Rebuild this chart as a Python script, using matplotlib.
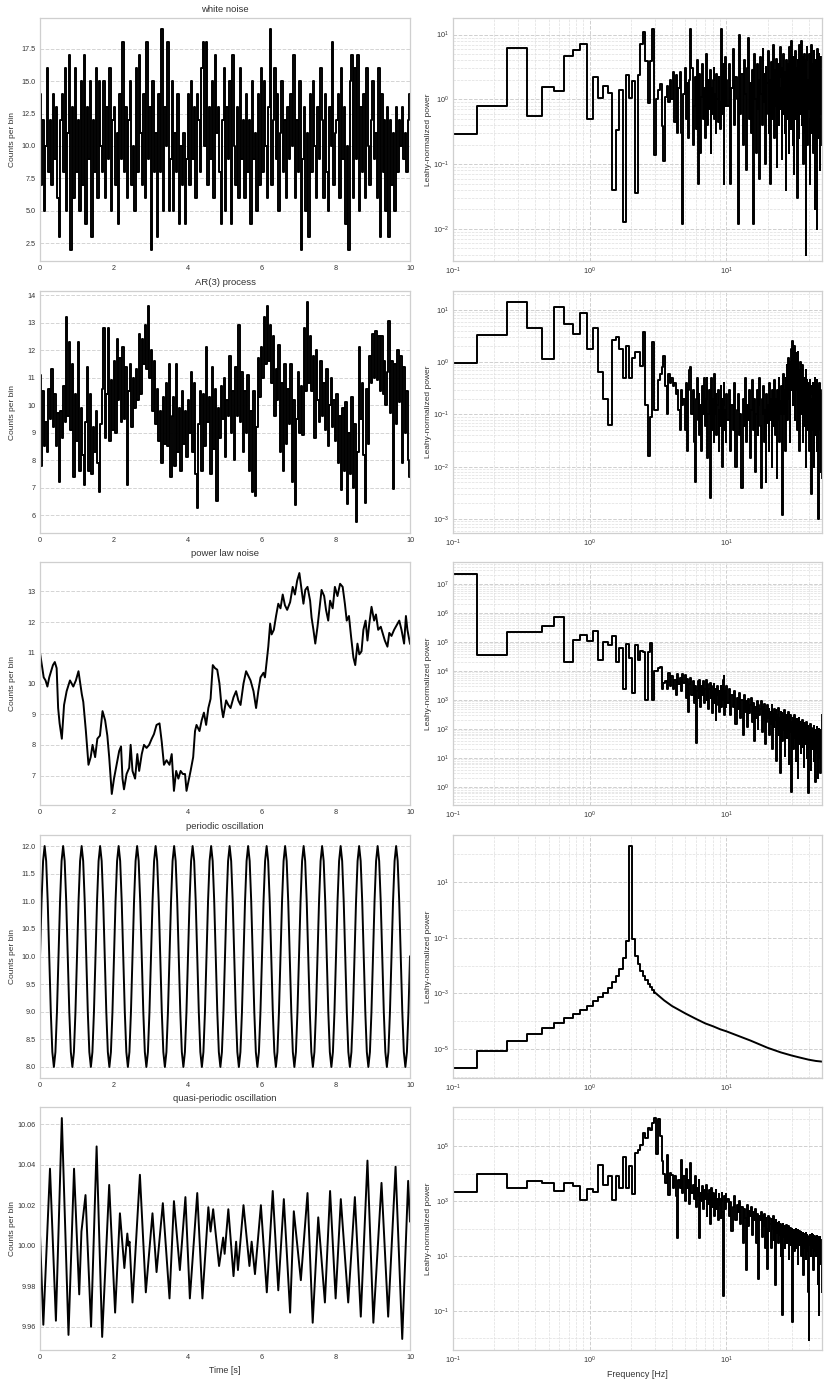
import numpy as np
import matplotlib
matplotlib.use("Agg")
import matplotlib.pyplot as plt
from matplotlib.ticker import LogLocator, NullFormatter

plt.rcParams['font.family'] = ['Liberation Sans', 'DejaVu Sans']

# ---------------- data ----------------
titles = ["white noise", "AR(3) process", "power law noise",
          "periodic oscillation", "quasi-periodic oscillation"]

white_counts = [
    14, 7, 12, 5, 10, 16, 8, 12, 7, 14,
    9, 13, 6, 3, 12, 14, 8, 16, 5, 11,
    17, 2, 13, 6, 16, 8, 12, 5, 15, 7,
    17, 4, 13, 9, 15, 3, 12, 8, 16, 6,
    15, 10, 8, 15, 6, 13, 9, 16, 5, 12,
    13, 7, 11, 4, 14, 9, 18, 8, 13, 6,
    12, 15, 7, 10, 5, 16, 8, 17, 11, 7,
    14, 6, 18, 9, 13, 2, 15, 8, 11, 3,
    14, 8, 19, 5, 13, 10, 18, 5, 9, 15,
    5, 11, 8, 14, 4, 10, 7, 11, 4, 9,
    14, 7, 15, 9, 13, 6, 14, 12, 8, 16,
    18, 10, 18, 7, 13, 9, 15, 6, 17, 11,
    13, 8, 4, 12, 16, 5, 13, 9, 15, 4,
    17, 10, 7, 13, 6, 16, 9, 12, 6, 14,
    8, 12, 4, 15, 9, 11, 5, 14, 7, 16,
    8, 15, 10, 6, 13, 19, 7, 12, 16, 9,
    14, 5, 11, 15, 8, 12, 6, 13, 9, 14,
    10, 17, 6, 12, 8, 15, 2, 9, 13, 5,
    11, 3, 14, 8, 15, 10, 6, 13, 9, 16,
    12, 6, 14, 8, 5, 13, 10, 18, 7, 11,
    12, 14, 6, 16, 9, 13, 4, 10, 2, 15,
    17, 6, 16, 9, 17, 5, 13, 8, 14, 6,
    16, 10, 7, 12, 15, 9, 11, 6, 16, 3,
    14, 8, 12, 5, 13, 3, 12, 7, 11, 5,
    13, 8, 12, 10, 13, 9, 11, 8, 12, 14]

ar3_counts = [
    11.1, 7.8, 10.5, 8.5, 9.4, 8.3, 10.6, 9.5, 11.3, 9.2,
    10.4, 8.5, 9.7, 7.2, 9.8, 8.8, 10.7, 9.4, 13.2, 9.6,
    12.3, 9.1, 11.5, 7.4, 10.4, 8.7, 12.3, 7.6, 9.9, 8.2,
    7.1, 9.4, 11.4, 7.6, 10.4, 7.5, 9.2, 8.3, 9.8, 7.9,
    6.85, 9.3, 10.6, 12.8, 8.8, 10.4, 12.8, 8.7, 10.9, 9.1,
    11.6, 9.0, 12.4, 10.2, 11.7, 9.4, 12.1, 9.5, 11.4, 7.1,
    10.5, 11.5, 9.2, 11.0, 9.9, 11.3, 10.2, 12.6, 10.4, 12.4,
    11.5, 12.9, 11.3, 13.6, 11.0, 12.0, 9.8, 11.6, 9.3, 10.6,
    8.7, 9.8, 7.9, 10.3, 8.6, 10.8, 8.5, 11.5, 7.4, 9.6,
    10.3, 7.8, 11.5, 8.3, 9.9, 7.6, 10.5, 8.6, 9.8, 8.1,
    10.2, 9.0, 11.2, 8.3, 10.8, 7.5, 6.25, 9.3, 10.5, 7.6,
    10.4, 8.5, 12.1, 9.4, 10.3, 7.5, 11.4, 8.4, 10.6, 6.5,
    9.9, 8.8, 10.7, 9.5, 11.0, 8.1, 10.2, 9.6, 11.8, 9.0,
    10.5, 8.0, 11.4, 9.6, 12.9, 9.4, 11.2, 8.3, 10.5, 9.0,
    11.1, 7.6, 9.8, 6.85, 10.5, 6.7, 9.2, 11.7, 10.3, 12.1,
    11.0, 13.2, 11.5, 13.6, 11.6, 12.9, 10.8, 12.5, 9.6, 11.3,
    10.2, 12.2, 8.3, 10.8, 7.6, 11.5, 8.6, 10.6, 9.3, 11.5,
    7.2, 10.2, 6.35, 9.5, 11.2, 9.0, 10.7, 8.9, 12.8, 10.5,
    13.75, 10.8, 12.5, 10.5, 11.8, 8.8, 12.0, 10.2, 9.4, 11.6,
    9.6, 10.8, 9.1, 11.3, 8.5, 10.0, 11.0, 9.2, 10.2, 8.7,
    10.4, 7.9, 9.6, 6.9, 9.9, 7.6, 10.1, 6.4, 9.0, 7.5,
    10.3, 7.0, 9.3, 5.75, 8.3, 12.1, 9.5, 10.8, 8.2, 6.45,
    10.6, 8.6, 11.8, 10.8, 12.6, 11.0, 12.7, 10.9, 12.5, 10.5,
    12.5, 10.4, 11.6, 10.0, 11.2, 13.05, 9.7, 11.6, 6.95, 11.5,
    9.3, 12.0, 10.1, 11.8, 7.9, 11.4, 9.0, 10.5, 8.0, 7.4]

powerlaw_points = [
    (0.00, 11.0), (0.05, 10.6), (0.10, 10.2), (0.15, 10.1), (0.20, 9.9), (0.25, 10.2),
    (0.30, 10.4), (0.35, 10.6), (0.40, 10.7), (0.45, 10.5), (0.49, 9.2), (0.53, 8.7),
    (0.59, 8.2), (0.65, 9.3), (0.72, 9.75), (0.81, 10.1), (0.90, 9.9), (0.97, 10.1),
    (1.04, 10.4), (1.13, 9.65), (1.17, 9.4), (1.24, 8.45), (1.31, 7.35), (1.37, 7.6),
    (1.42, 8.0), (1.49, 7.6), (1.55, 8.2), (1.62, 8.3), (1.69, 9.1), (1.76, 8.8),
    (1.82, 8.3), (1.87, 7.6), (1.94, 6.4), (2.00, 6.9), (2.07, 7.35), (2.14, 7.8),
    (2.19, 7.95), (2.23, 6.9), (2.27, 6.55), (2.34, 7.05), (2.41, 7.25), (2.45, 8.0),
    (2.50, 7.15), (2.57, 6.9), (2.63, 7.7), (2.68, 7.15), (2.75, 7.7), (2.81, 8.0),
    (2.88, 7.9), (2.95, 8.0), (3.02, 8.2), (3.08, 8.35), (3.15, 8.65), (3.23, 8.7),
    (3.29, 8.1), (3.35, 7.35), (3.42, 7.5), (3.50, 7.35), (3.56, 7.7), (3.62, 6.5),
    (3.68, 7.15), (3.74, 6.9), (3.80, 7.15), (3.86, 7.05), (3.92, 7.05), (3.96, 6.5),
    (4.01, 6.8), (4.07, 7.15), (4.14, 7.6), (4.19, 8.45), (4.23, 8.65), (4.31, 8.45),
    (4.37, 8.8), (4.43, 9.05), (4.49, 8.65), (4.55, 9.2), (4.61, 9.5), (4.67, 10.6),
    (4.73, 10.5), (4.79, 10.45), (4.85, 10.0), (4.91, 9.2), (4.95, 8.9), (5.03, 9.45),
    (5.09, 9.3), (5.15, 9.2), (5.23, 9.55), (5.30, 9.75), (5.36, 9.45), (5.42, 9.3),
    (5.50, 10.0), (5.57, 10.4), (5.63, 10.25), (5.69, 10.1), (5.77, 9.75), (5.84, 9.2),
    (5.90, 9.75), (5.96, 10.2), (6.04, 10.35), (6.08, 10.2), (6.13, 10.75), (6.17, 11.2),
    (6.22, 11.95), (6.26, 11.6), (6.32, 11.75), (6.38, 12.2), (6.44, 12.6), (6.50, 12.45),
    (6.56, 12.9), (6.62, 12.55), (6.68, 12.4), (6.76, 12.65), (6.83, 13.15), (6.89, 12.9),
    (6.95, 13.35), (7.01, 13.6), (7.07, 13.05), (7.12, 12.6), (7.17, 13.05), (7.23, 13.15),
    (7.30, 12.7), (7.34, 12.15), (7.39, 11.75), (7.44, 11.3), (7.50, 11.85), (7.55, 12.4),
    (7.61, 13.05), (7.68, 12.85), (7.73, 12.4), (7.79, 12.05), (7.84, 12.7), (7.91, 12.45),
    (7.97, 13.15), (8.04, 12.85), (8.11, 13.25), (8.18, 13.15), (8.24, 12.6), (8.29, 12.05),
    (8.35, 12.2), (8.41, 11.5), (8.47, 10.85), (8.52, 10.6), (8.58, 11.3), (8.63, 10.95),
    (8.69, 11.05), (8.74, 11.75), (8.80, 12.05), (8.85, 11.4), (8.90, 11.95), (8.96, 12.5),
    (9.03, 12.05), (9.08, 12.25), (9.14, 11.75), (9.21, 11.85), (9.26, 11.65), (9.32, 11.4),
    (9.39, 11.2), (9.44, 11.65), (9.50, 11.55), (9.57, 11.75), (9.64, 11.9), (9.71, 12.05),
    (9.77, 11.75), (9.84, 11.3), (9.89, 12.2), (9.93, 11.75), (10.00, 11.3)]

periodic_counts = [
    10, 11, 11.73, 12, 11.73, 11, 10, 9, 8.27, 8, 8.27, 9,
    10, 11, 11.73, 12, 11.73, 11, 10, 9, 8.27, 8, 8.27, 9,
    10, 11, 11.73, 12, 11.73, 11, 10, 9, 8.27, 8, 8.27, 9,
    10, 11, 11.73, 12, 11.73, 11, 10, 9, 8.27, 8, 8.27, 9,
    10, 11, 11.73, 12, 11.73, 11, 10, 9, 8.27, 8, 8.27, 9,
    10, 11, 11.73, 12, 11.73, 11, 10, 9, 8.27, 8, 8.27, 9,
    10, 11, 11.73, 12, 11.73, 11, 10, 9, 8.27, 8, 8.27, 9,
    10, 11, 11.73, 12, 11.73, 11, 10, 9, 8.27, 8, 8.27, 9,
    10, 11, 11.73, 12, 11.73, 11, 10, 9, 8.27, 8, 8.27, 9,
    10, 11, 11.73, 12, 11.73, 11, 10, 9, 8.27, 8, 8.27, 9,
    10, 11, 11.73, 12, 11.73, 11, 10, 9, 8.27, 8, 8.27, 9,
    10, 11, 11.73, 12, 11.73, 11, 10, 9, 8.27, 8, 8.27, 9,
    10, 11, 11.73, 12, 11.73, 11, 10, 9, 8.27, 8, 8.27, 9,
    10, 11, 11.73, 12, 11.73, 11, 10, 9, 8.27, 8, 8.27, 9,
    10, 11, 11.73, 12, 11.73, 11, 10, 9, 8.27, 8, 8.27, 9,
    10, 11, 11.73, 12, 11.73, 11, 10, 9, 8.27, 8, 8.27, 9,
    10, 11, 11.73, 12, 11.73, 11, 10, 9, 8.27, 8, 8.27, 9,
    10, 11, 11.73, 12, 11.73, 11, 10, 9, 8.27, 8, 8.27, 9,
    10, 11, 11.73, 12, 11.73, 11, 10, 9, 8.27, 8, 8.27, 9,
    10, 11, 11.73, 12, 11.73, 11, 10, 9, 8.27, 8, 8.27, 9,
    10]

qpo_points = [
    (0.00, 10.0056), (0.09, 9.961), (0.27, 10.038), (0.43, 9.963), (0.59, 10.063),
    (0.77, 9.956), (0.92, 10.038), (1.06, 9.976), (1.12, 10.007), (1.23, 10.025),
    (1.38, 9.960), (1.53, 10.049), (1.68, 9.955), (1.87, 10.030), (2.03, 9.967),
    (2.16, 10.016), (2.28, 9.989), (2.36, 10.006), (2.39, 10.000), (2.42, 10.002),
    (2.50, 9.972), (2.70, 10.035), (2.86, 9.977), (3.04, 10.016), (3.15, 9.987),
    (3.32, 10.021), (3.50, 9.974), (3.62, 10.022), (3.78, 9.988), (3.93, 10.024),
    (4.05, 9.974), (4.25, 10.026), (4.39, 9.974), (4.55, 10.019), (4.61, 10.007),
    (4.68, 10.018), (4.84, 9.990), (4.95, 10.004), (4.99, 9.996), (5.09, 10.018),
    (5.23, 9.985), (5.30, 10.002), (5.35, 9.988), (5.50, 10.020), (5.66, 9.990),
    (5.72, 10.002), (5.81, 9.986), (5.97, 10.020), (6.13, 9.977), (6.29, 10.027),
    (6.44, 9.978), (6.59, 10.023), (6.76, 9.967), (6.86, 10.017), (7.05, 9.983),
    (7.23, 10.026), (7.37, 9.962), (7.52, 10.014), (7.70, 9.972), (7.84, 10.027),
    (7.99, 9.974), (8.13, 10.023), (8.33, 9.972), (8.51, 10.024), (8.67, 9.965),
    (8.85, 10.042), (9.01, 9.962), (9.23, 10.031), (9.41, 9.965), (9.61, 10.039),
    (9.79, 9.954), (9.95, 10.032), (10.00, 10.012)]

# Leahy powers: 0.1-3.0 Hz and 3.1-10.0 Hz every 0.1 Hz, 10.25-50 Hz every 0.25 Hz
white_pow_low = [0.29, 0.78, 6.1, 0.56, 1.55, 1.33, 4.7, 5.8, 7.1, 0.5,
                 2.2, 1.05, 1.6, 1.27, 0.04, 0.34, 1.4, 0.0126, 2.35, 1.06,
                 1.9, 0.036, 2.35, 7.1, 11, 3.9, 0.87, 3.9, 12.3, 0.14]
white_pow_mid = [1.0, 1.4, 1.7, 0.39, 0.11, 1.1, 1.6, 0.9, 2.0, 1.0,
                 2.6, 0.45, 2.4, 0.3, 1.5, 2.6, 0.3, 0.012, 1.2, 3.0,
                 0.5, 1.8, 0.25, 2.0, 12, 3.0, 0.2, 0.8, 2.2, 0.35,
                 4.0, 0.05, 0.6, 2.5, 0.15, 1.1, 3.5, 0.5, 1.5, 0.25,
                 5.0, 1.2, 0.4, 2.0, 0.7, 2.8, 0.15, 1.5, 0.6, 2.0,
                 3.0, 0.5, 1.2, 0.3, 2.5, 1.0, 0.45, 2.2, 0.9, 0.35,
                 1.8, 12, 2.0, 0.6, 3.5, 0.05, 1.5, 4.5, 0.8, 2.0]
white_pow_high = [0.8, 3.5, 0.05, 1.5, 6.0, 0.4, 2.2, 1.0, 0.012, 10,
                  0.6, 2.5, 0.2, 4.0, 1.2, 0.08, 3.0, 9.0, 0.5, 1.8,
                  0.3, 2.8, 0.012, 5.0, 1.0, 0.15, 3.5, 0.7, 2.0, 0.06,
                  4.5, 1.2, 0.4, 6.0, 0.9, 2.5, 0.1, 3.2, 0.6, 1.8,
                  5.5, 0.3, 2.0, 0.05, 3.8, 1.1, 0.5, 7.0, 1.5, 0.25,
                  2.8, 0.8, 4.2, 0.09, 1.6, 3.5, 0.4, 2.2, 6.5, 0.7,
                  1.5, 0.12, 3.0, 0.6, 5.0, 1.8, 0.3, 2.6, 0.04, 4.0,
                  1.2, 0.5, 3.5, 2.0, 0.15, 6.5, 0.9, 2.4, 0.35, 8.0,
                  1.0, 3.0, 0.2, 4.5, 0.07, 2.2, 1.4, 5.5, 0.5, 3.0,
                  0.9, 0.03, 4.0, 1.6, 2.6, 0.25, 7.0, 1.1, 3.5, 0.6,
                  2.0, 8.0, 0.4, 1.5, 4.5, 0.1, 3.0, 0.8, 5.0, 1.3,
                  0.3, 0.004, 2.5, 4.0, 1.0, 6.5, 0.2, 2.0, 0.7, 3.5,
                  1.2, 5.0, 0.05, 2.8, 0.5, 4.2, 1.5, 7.0, 0.3, 2.2,
                  0.9, 3.5, 0.15, 5.5, 1.8, 0.6, 2.5, 0.02, 4.0, 1.0,
                  3.0, 0.4, 0.01, 2.0, 6.0, 1.3, 0.25, 3.8, 0.8, 2.5,
                  5.0, 0.5, 1.8, 0.08, 3.2, 1.1, 4.5, 0.6, 2.8, 0.2]

ar3_pow_low = [0.96, 3.3, 14, 4.5, 1.16, 11.2, 5.4, 3.5, 8.6, 1.77,
               4.6, 0.66, 0.2, 0.062, 2.6, 3.0, 1.8, 0.5, 2.0, 0.5,
               1.2, 1.55, 1.6, 0.83, 3.7, 0.15, 0.016, 0.09, 2.4, 0.12]
ar3_pow_mid = [0.12, 0.45, 0.6, 0.8, 1.3, 0.35, 0.1, 0.6, 0.4, 0.5,
               0.35, 0.4, 0.25, 0.3, 0.12, 0.05, 0.3, 0.15, 0.2, 0.05,
               0.4, 0.02, 0.3, 0.7, 0.8, 0.1, 0.3, 0.03, 0.005, 0.2,
               0.5, 0.08, 0.25, 0.04, 0.15, 0.02, 0.35, 0.1, 0.5, 0.06,
               0.2, 0.5, 0.015, 0.1, 0.3, 0.0025, 0.15, 0.5, 0.05, 0.2,
               0.03, 0.6, 0.1, 0.25, 0.04, 0.15, 0.3, 0.02, 0.12, 0.06,
               0.35, 0.08, 0.2, 0.01, 0.15, 0.4, 0.05, 0.12, 0.03, 0.25]
ar3_pow_high = [0.08, 0.3, 0.02, 0.15, 0.05, 0.4, 0.01, 0.12, 0.25, 0.04,
                0.1, 0.004, 0.2, 0.06, 0.5, 0.03, 0.15, 0.08, 0.3, 0.015,
                0.12, 0.45, 0.05, 0.2, 0.008, 0.1, 0.3, 0.04, 0.15, 0.5,
                0.06, 0.004, 0.2, 0.1, 0.35, 0.03, 0.12, 0.005, 0.25, 0.07,
                0.15, 0.02, 0.4, 0.08, 0.2, 0.01, 0.3, 0.06, 0.12, 0.45,
                0.04, 0.2, 0.1, 0.006, 0.3, 0.08, 0.5, 0.03, 0.18, 0.1,
                0.35, 0.05, 0.0012, 0.2, 0.6, 0.1, 0.3, 0.02, 0.5, 0.15,
                0.9, 0.08, 0.4, 1.2, 0.2, 0.6, 0.03, 1.0, 0.3, 1.8,
                0.5, 2.5, 0.15, 1.2, 0.6, 2.0, 0.08, 0.9, 1.5, 0.3,
                1.1, 0.05, 0.8, 1.6, 0.25, 0.7, 0.02, 0.5, 1.0, 0.2,
                0.6, 0.1, 0.45, 0.9, 0.03, 0.35, 0.15, 0.5, 0.06, 0.4,
                0.2, 0.7, 0.01, 0.3, 0.12, 0.45, 0.05, 0.25, 0.4, 0.08,
                0.3, 0.02, 0.45, 0.12, 0.25, 0.06, 0.35, 0.003, 0.2, 0.1,
                0.4, 0.05, 0.3, 0.15, 0.01, 0.25, 0.5, 0.08, 0.2, 0.04,
                0.3, 0.12, 0.45, 0.02, 0.2, 0.08, 0.35, 0.15, 0.001, 0.25,
                0.1, 0.4, 0.05, 0.2, 0.3, 0.008, 0.15, 0.25, 0.1, 0.006]

pl_pow_low = [2.3e7, 3.6e4, 2.2e5, 2.2e5, 3.5e5, 7.3e5, 2.1e4, 1.2e5, 1.8e5, 1.05e5,
              2.5e5, 2.5e4, 1.0e5, 8.0e4, 1.6e5, 2.1e4, 6.3e4, 2.4e3, 8.5e4, 2.9e4,
              1.7e3, 8.0e4, 2.5e4, 4.9e4, 4.6e4, 1.0e3, 4.6e4, 9.0e4, 1.0e3, 1.0e4]
pl_pow_mid = [1.0e4, 1.25e4, 1.4e4, 2.5e3, 4.0e3, 4.4e3, 2.5e3, 8.5e3, 3.0e3, 7.0e3,
              2.5e3, 5.0e3, 1.5e3, 8.0e3, 3.5e3, 6.0e3, 2.0e3, 8.0e3, 4.0e3, 7.5e3,
              1.2e3, 5.5e3, 4.0e2, 3.5e3, 6.0e3, 1.5e3, 4.5e3, 8.0e2, 3.0e3, 32,
              2.0e3, 4.5e3, 1.2e3, 5.0e3, 6.0e2, 3.0e3, 1.5e3, 4.5e3, 8.0e2, 2.5e3,
              5.0e3, 1.0e3, 3.5e3, 5.0e2, 2.5e3, 4.0e3, 1.2e3, 3.0e3, 3.5e2, 2.0e3,
              3.5e3, 8.0e2, 2.5e3, 2.1e2, 1.5e3, 3.0e3, 7.0e2, 2.0e3, 4.0e2, 1.8e3,
              3.0e3, 6.0e2, 2.5e3, 1.0e3, 5.0e3, 7.0e3, 3.0e2, 2.0e3, 6.0e2, 3.0e3]
pl_pow_high = [800, 2.5e3, 300, 1.5e3, 600, 2.0e3, 150, 1.2e3, 500, 1.8e3,
               250, 1.0e3, 60, 1.5e3, 400, 900, 120, 1.1e3, 350, 700,
               1.2e3, 180, 800, 40, 600, 250, 900, 100, 700, 300,
               500, 900, 80, 600, 200, 750, 30, 450, 180, 650,
               250, 500, 60, 400, 150, 700, 20, 350, 120, 500,
               200, 450, 8, 300, 100, 550, 60, 250, 3, 400,
               150, 350, 40, 280, 90, 450, 12, 220, 120, 300,
               50, 250, 100, 400, 6, 200, 80, 300, 40, 0.7,
               180, 60, 250, 20, 150, 300, 50, 200, 8, 120,
               220, 40, 150, 2, 100, 250, 30, 180, 70, 120,
               15, 150, 60, 200, 25, 90, 160, 5, 110, 50,
               140, 30, 90, 180, 10, 100, 40, 130, 0.6, 80,
               100, 25, 120, 50, 150, 4, 70, 110, 30, 90,
               20, 100, 60, 130, 8, 80, 30, 90, 1.5, 60,
               90, 20, 70, 120, 15, 60, 2, 80, 40, 100,
               10, 70, 30, 90, 3, 50, 25, 60, 300, 20]

per_pow_low = [2.0e-6, 8.2e-6, 1.9e-5, 3.5e-5, 5.6e-5, 8.9e-5, 1.26e-4, 1.8e-4, 2.5e-4, 3.5e-4,
               5.1e-4, 7.2e-4, 1.05e-3, 1.6e-3, 2.5e-3, 4.1e-3, 7.6e-3, 1.9e-2, 7.6e-2, 2.0e2,
               9.1e-2, 2.3e-2, 1.1e-2, 6.5e-3, 4.3e-3, 3.0e-3, 2.2e-3, 1.7e-3, 1.35e-3, 1.07e-3]
per_tail_freq = [3, 3.5, 4, 5, 6, 7, 8, 9, 10, 15, 20, 25, 30, 35, 40, 45, 50]
per_tail_pow = [1.07e-3, 5.6e-4, 3.5e-4, 1.9e-4, 1.2e-4, 8.3e-5, 6.5e-5, 5.1e-5, 4.3e-5,
                2.0e-5, 1.1e-5, 7.5e-6, 5.8e-6, 4.8e-6, 4.1e-6, 3.7e-6, 3.5e-6]

qpo_pow_low = [2.2e3, 1.0e4, 3.0e3, 5.3e3, 4.7e3, 2.3e3, 4.7e3, 3.6e3, 1.1e3, 2.8e3,
               2.1e3, 2.0e4, 4.0e3, 8.3e3, 1.1e3, 8.0e3, 3.0e3, 4.0e4, 3.0e3, 1.9e4,
               1.9e3, 5.7e4, 7.6e4, 1.15e5, 3.1e5, 2.0e5, 4.7e5, 4.0e5, 7.0e5, 1.07e6]
qpo_pow_mid = [5.3e4, 1.0e6, 2.3e5, 2.8e4, 1.0e4, 4.6e3, 5.0e4, 1.7e3, 1.1e4, 9.0e3,
               3.0e3, 8.0e3, 1.5e3, 45, 6.0e3, 3.0e3, 3.3e4, 2.0e3, 8.0e3, 1.0e3,
               1.5e4, 3.0e3, 6.0e3, 800, 2.5e4, 2.0e3, 4.0e3, 1.2e3, 8.0e3, 600,
               3.0e3, 1.5e3, 6.0e3, 45, 2.0e3, 1.0e3, 3.5e3, 500, 2.5e3, 1.2e3,
               4.0e3, 300, 1.8e3, 800, 2.5e3, 150, 1.5e3, 3.0e3, 600, 2.0e3,
               1.0e3, 300, 1.5e3, 2.5e3, 500, 1.2e3, 200, 1.8e3, 700, 1.2e3,
               250, 1.0e3, 2.0e3, 400, 0.35, 800, 1.5e3, 500, 1.8e3, 900]
qpo_pow_high = [1.2e3, 300, 900, 80, 600, 1.5e3, 200, 700, 400, 1.0e3,
                150, 600, 30, 500, 250, 3, 700, 120, 450, 300,
                600, 60, 400, 200, 500, 30, 350, 150, 1.5, 300,
                200, 400, 50, 300, 120, 350, 20, 250, 100, 3.5,
                300, 80, 250, 150, 20, 220, 100, 300, 40, 180,
                0.9, 200, 70, 160, 120, 30, 180, 60, 150, 10,
                120, 80, 0.07, 150, 50, 130, 20, 110, 70, 140,
                30, 100, 60, 120, 8, 90, 50, 110, 25, 80,
                100, 0.04, 70, 40, 90, 15, 80, 55, 100, 20,
                70, 45, 90, 5, 60, 35, 80, 25, 65, 40,
                75, 10, 60, 30, 70, 2, 55, 40, 65, 20,
                50, 70, 8, 45, 30, 60, 15, 50, 0.5, 40,
                0.009, 55, 25, 60, 35, 10, 50, 40, 65, 20,
                45, 60, 3, 40, 25, 55, 15, 45, 30, 50,
                10, 40, 55, 20, 45, 1, 35, 50, 25, 40,
                0.07, 45, 30, 50, 5, 35, 20, 40, 0.5, 25]

# ---------------- figure ----------------
W, H = 830, 1384
fig = plt.figure(figsize=(W / 100, H / 100), dpi=100)

rows_px = [(18, 261), (291, 533), (562, 805), (835, 1078), (1107, 1350)]
left_px = (40, 410)
right_px = (453, 822)

LINE = dict(color='black', lw=1.4)
SPINE = '#cfcfcf'
TICKC = '#333333'
FS_TICK = 5.2
FS_LAB = 6.0


def make_ax(xpx, ypx):
    x0, x1 = xpx
    t, b = ypx
    ax = fig.add_axes([x0 / W, 1 - b / H, (x1 - x0) / W, (b - t) / H])
    for s in ax.spines.values():
        s.set_color(SPINE)
        s.set_linewidth(0.9)
    ax.tick_params(which='both', length=0, labelsize=FS_TICK, colors=TICKC, pad=3.2)
    ax.set_facecolor('white')
    return ax


def spec_freqs(low, mid, high):
    f_low = 0.1 * np.arange(1, len(low) + 1)
    f_mid = 3.0 + 0.1 * np.arange(1, len(mid) + 1)
    f_high = 10.0 + 0.25 * np.arange(1, len(high) + 1)
    return np.concatenate([f_low, f_mid, f_high]), np.array(low + mid + high, dtype=float)


t_white = np.linspace(0, 10, len(white_counts))
t_ar3 = np.linspace(0, 10, len(ar3_counts))
t_per = np.linspace(0, 10, len(periodic_counts))
t_pl, v_pl = zip(*powerlaw_points)
t_qpo, v_qpo = zip(*qpo_points)

series = [(t_white, white_counts, 'steps-mid'), (t_ar3, ar3_counts, 'steps-mid'),
          (t_pl, v_pl, 'default'), (t_per, periodic_counts, 'default'),
          (t_qpo, v_qpo, 'default')]

spectra = [spec_freqs(white_pow_low, white_pow_mid, white_pow_high),
           spec_freqs(ar3_pow_low, ar3_pow_mid, ar3_pow_high),
           spec_freqs(pl_pow_low, pl_pow_mid, pl_pow_high),
           None,
           spec_freqs(qpo_pow_low, qpo_pow_mid, qpo_pow_high)]

ylims_r = [(3.2e-3, 18), (5.4e-4, 23), (0.24, 5.8e7), (9e-7, 5e2), (3.8e-3, 2.7e6)]
yticks_r = [[1e-2, 1e-1, 1e0, 1e1],
            [1e-3, 1e-2, 1e-1, 1e0, 1e1],
            [1e0, 1e1, 1e2, 1e3, 1e4, 1e5, 1e6, 1e7],
            [1e-5, 1e-3, 1e-1, 1e1],
            [1e-1, 1e1, 1e3, 1e5]]
minor_y = [True, True, True, False, False]

for i in range(5):
    # ---- left: light curve
    ax = make_ax(left_px, rows_px[i])
    tt, vv, ds = series[i]
    ax.plot(tt, vv, drawstyle=ds, **LINE)
    ax.set_xlim(0, 10)
    ax.set_xticks([0, 2, 4, 6, 8, 10])
    ax.grid(axis='y', color='#d4d4d4', ls='--', lw=0.7)
    ax.grid(axis='x', visible=False)
    ax.ticklabel_format(axis='y', useOffset=False)
    ax.set_ylabel("Counts per bin", fontsize=FS_LAB, color=TICKC)
    ax.yaxis.set_label_coords(-0.064, 0.5)
    ax.set_title(titles[i], fontsize=6.8, color=TICKC, pad=4)
    if i == 4:
        ax.set_xlabel("Time [s]", fontsize=FS_LAB + 0.4, color=TICKC, labelpad=3)

    # ---- right: periodogram
    ax = make_ax(right_px, rows_px[i])
    ax.set_xscale('log')
    ax.set_yscale('log')
    if spectra[i] is not None:
        ff, pp = spectra[i]
        ax.plot(ff, pp, drawstyle='steps-mid', **LINE)
    else:
        f_low = 0.1 * np.arange(1, len(per_pow_low) + 1)
        ax.plot(f_low, per_pow_low, drawstyle='steps-mid', **LINE)
        ax.plot(per_tail_freq, per_tail_pow, **LINE)
    ax.set_xlim(0.1, 50)
    ax.set_ylim(*ylims_r[i])
    ax.set_yticks(yticks_r[i])
    if minor_y[i]:
        ax.yaxis.set_minor_locator(LogLocator(base=10, subs=np.arange(2, 10), numticks=30))
    else:
        ax.yaxis.set_minor_locator(LogLocator(base=10, subs=[], numticks=30))
    ax.yaxis.set_minor_formatter(NullFormatter())
    ax.xaxis.set_minor_locator(LogLocator(base=10, subs=np.arange(2, 10), numticks=30))
    ax.xaxis.set_minor_formatter(NullFormatter())
    ax.grid(which='major', color='#cfcfcf', ls='--', lw=0.7)
    ax.grid(which='minor', color='#dedede', ls='--', lw=0.5)
    ax.set_ylabel("Leahy-normalized power", fontsize=FS_LAB, color=TICKC)
    ax.yaxis.set_label_coords(-0.057, 0.5)
    if i == 4:
        ax.set_xlabel("Frequency [Hz]", fontsize=FS_LAB + 0.4, color=TICKC, labelpad=3)

fig.savefig("out.png", dpi=100, facecolor='white')
